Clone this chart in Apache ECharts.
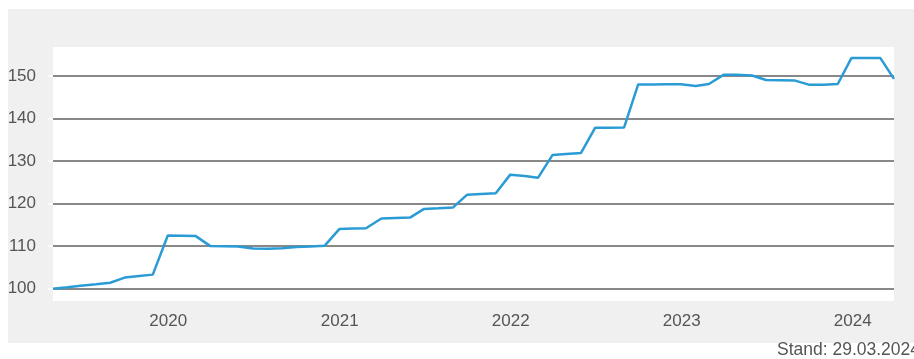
<!DOCTYPE html>
<html>
<head>
<meta charset="utf-8">
<script src="https://cdn.jsdelivr.net/npm/echarts@6/dist/echarts.min.js"></script>
<style>
  html, body { margin: 0; padding: 0; background: #ffffff; }
  #chart { width: 914px; height: 359px; }
</style>
</head>
<body>
<div id="chart"></div>
<script>
// Monthly index values (start = 100), month-end dates
var dates = [
  '2019-04-30','2019-05-31','2019-06-28','2019-07-31','2019-08-30','2019-09-30','2019-10-31','2019-11-29','2019-12-31',
  '2020-01-31','2020-02-28','2020-03-31','2020-04-30','2020-05-29','2020-06-30','2020-07-31','2020-08-31','2020-09-30','2020-10-30','2020-11-30','2020-12-31',
  '2021-01-29','2021-02-26','2021-03-31','2021-04-30','2021-05-31','2021-06-30','2021-07-30','2021-08-31','2021-09-30','2021-10-29','2021-11-30','2021-12-31',
  '2022-01-31','2022-02-28','2022-03-31','2022-04-29','2022-05-31','2022-06-30','2022-07-29','2022-08-31','2022-09-30','2022-10-31','2022-11-30','2022-12-30',
  '2023-01-31','2023-02-28','2023-03-31','2023-04-28','2023-05-31','2023-06-30','2023-07-31','2023-08-31','2023-09-29','2023-10-31','2023-11-30','2023-12-29',
  '2024-01-31','2024-02-29','2024-03-29'
];
var indexValues = [
  100.0, 100.35, 100.7, 101.05, 101.4, 102.6, 103.0, 103.3, 112.5,
  112.45, 112.4, 110.0, 109.95, 109.9, 109.45, 109.4, 109.5, 109.8, 109.9, 110.1, 114.0,
  114.15, 114.2, 116.5, 116.6, 116.7, 118.75, 118.9, 119.1, 122.1, 122.25, 122.4, 126.8,
  126.5, 126.05, 131.4, 131.65, 131.9, 137.8, 137.8, 137.9, 148.0, 148.0, 148.05, 148.05,
  147.65, 148.1, 150.25, 150.25, 150.1, 149.05, 149.0, 148.9, 147.95, 147.95, 148.1, 154.2,
  154.2, 154.2, 149.3
];
var yearTicks = ['2020-01-01', '2021-01-01', '2022-01-01', '2023-01-01', '2024-01-01'];
var yTicks = [100, 110, 120, 130, 140, 150];
var standText = 'Stand: 29.03.2024';

var seriesData = dates.map(function (d, i) { return [Date.parse(d), indexValues[i]]; });
var yearTickValues = yearTicks.map(function (d) { return Date.parse(d); });

var chart = echarts.init(document.getElementById('chart'), null, { renderer: 'canvas' });
var FONT = '"Liberation Sans", Arial, sans-serif';

chart.setOption({
  animation: false,
  backgroundColor: '#ffffff',
  graphic: [
    {
      type: 'rect', z: -10, silent: true,
      shape: { x: 8, y: 9, width: 906, height: 334 },
      style: { fill: '#f0f0f0' }
    },
    {
      type: 'text', silent: true,
      left: 777, top: 341,
      style: { text: standText, fill: '#555555', font: '17.5px ' + FONT }
    }
  ],
  grid: {
    left: 53, right: 20, top: 47, bottom: 58,
    show: true, backgroundColor: '#ffffff', borderWidth: 0
  },
  xAxis: {
    type: 'value',
    min: Date.parse(dates[0]),
    max: Date.parse(dates[dates.length - 1]),
    axisLine: { show: false },
    axisTick: { show: false },
    splitLine: { show: false },
    axisLabel: {
      customValues: yearTickValues,
      margin: 12,
      color: '#555555',
      fontSize: 17,
      fontFamily: FONT,
      formatter: function (v) { return String(new Date(v).getUTCFullYear()); }
    }
  },
  yAxis: {
    type: 'value',
    min: 97.1,
    max: 156.8,
    axisLine: { show: false },
    axisTick: {
      show: true, customValues: yTicks, length: 5,
      lineStyle: { color: '#ffffff', width: 1.5 }
    },
    axisLabel: {
      customValues: yTicks,
      margin: 17,
      color: '#555555',
      fontSize: 17,
      fontFamily: FONT
    },
    splitLine: { show: true, lineStyle: { color: '#606060', width: 1.5 } }
  },
  series: [{
    type: 'line',
    data: seriesData,
    showSymbol: false,
    lineStyle: { color: '#2b9bd6', width: 2.5 },
    clip: true
  }]
});
</script>
</body>
</html>
